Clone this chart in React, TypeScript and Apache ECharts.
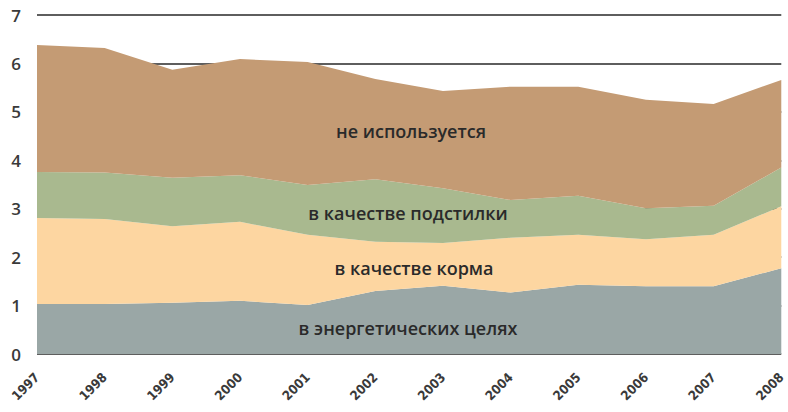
import React, { useEffect, useRef } from "react";
import * as echarts from "echarts";

const years = ["1997", "1998", "1999", "2000", "2001", "2002", "2003", "2004", "2005", "2006", "2007", "2008"];
const energy = [1.03, 1.03, 1.06, 1.10, 1.01, 1.30, 1.41, 1.27, 1.43, 1.40, 1.40, 1.77];
const feed = [1.78, 1.76, 1.58, 1.63, 1.45, 1.02, 0.88, 1.13, 1.03, 0.97, 1.06, 1.28];
const bedding = [0.95, 0.96, 1.00, 0.96, 1.03, 1.29, 1.13, 0.78, 0.81, 0.64, 0.60, 0.80];
const unused = [2.62, 2.57, 2.23, 2.40, 2.54, 2.07, 2.01, 2.34, 2.25, 2.24, 2.10, 1.81];

const seriesNames = ["в энергетических целях", "в качестве корма", "в качестве подстилки", "не используется"];
const seriesColors = ["#9AA7A6", "#FDD6A1", "#A9B98F", "#C49B74"];

export default function App() {
  const ref = useRef<HTMLDivElement>(null);
  useEffect(() => {
    if (!ref.current) return;
    const chart = echarts.init(ref.current, null, { renderer: "svg" });
    const data = [energy, feed, bedding, unused];
    const labelStyle = {
      fill: "#2a2a2a",
      fontSize: 18,
      fontFamily: "Open Sans",
      fontWeight: 600,
      align: "center",
      verticalAlign: "middle",
    };
    chart.setOption({
      animation: false,
      grid: { left: 37, right: 5, top: 15, bottom: 58 },
      xAxis: {
        type: "category",
        data: years,
        boundaryGap: false,
        axisLine: { show: false },
        axisTick: { show: false },
        axisLabel: {
          rotate: 45,
          margin: 21,
          fontSize: 13,
          fontWeight: 600,
          fontFamily: "DejaVu Sans Condensed",
          color: "#3a3a3a",
        },
        splitLine: { show: false },
      },
      yAxis: {
        type: "value",
        min: 0,
        max: 7,
        interval: 1,
        axisLine: { show: false },
        axisTick: { show: false },
        axisLabel: {
          margin: 16,
          fontSize: 17,
          fontWeight: 600,
          fontFamily: "Open Sans",
          color: "#3a3a3a",
        },
        splitLine: { show: true, lineStyle: { color: "#5e5e5e", width: 2 } },
      },
      series: data.map((d, i) => ({
        name: seriesNames[i],
        type: "line",
        stack: "total",
        data: d,
        symbol: "none",
        lineStyle: { width: 0 },
        areaStyle: { color: seriesColors[i], opacity: 1 },
        itemStyle: { color: seriesColors[i] },
      })),
      graphic: [
        { type: "text", z: 100, x: 411, y: 131, style: { ...labelStyle, text: seriesNames[3] } },
        { type: "text", z: 100, x: 408, y: 213, style: { ...labelStyle, text: seriesNames[2] } },
        { type: "text", z: 100, x: 414, y: 268, style: { ...labelStyle, text: seriesNames[1] } },
        { type: "text", z: 100, x: 408, y: 328, style: { ...labelStyle, text: seriesNames[0] } },
      ],
    });
    return () => chart.dispose();
  }, []);
  return <div ref={ref} style={{ width: 788, height: 412, position: "absolute", left: 0, top: 0 }} />;
}
